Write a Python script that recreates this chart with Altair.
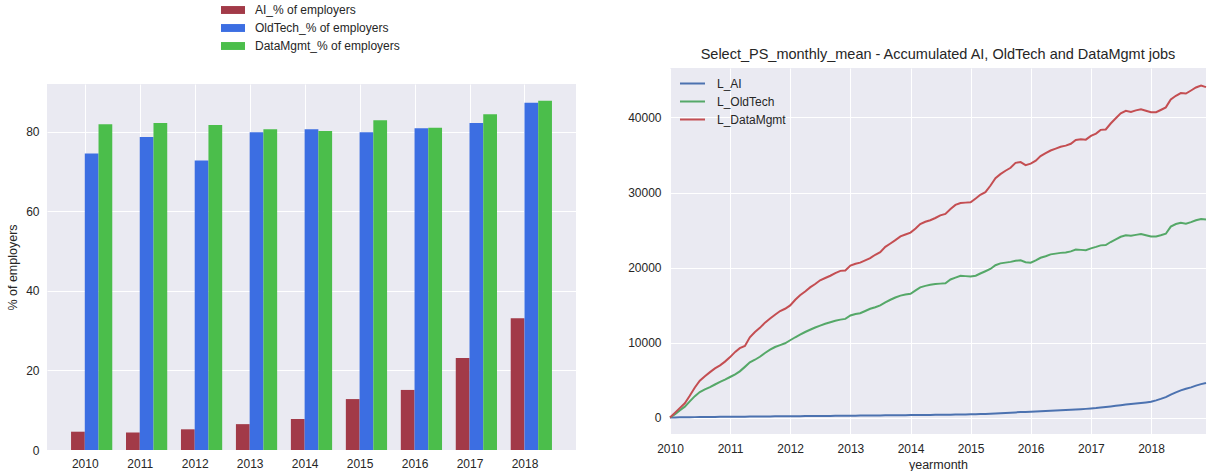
import altair as alt
import pandas as pd

# ---------------- data: left bar chart ----------------
years = [2010, 2011, 2012, 2013, 2014, 2015, 2016, 2017, 2018]
ai_pct = [4.6, 4.4, 5.2, 6.5, 7.8, 12.8, 15.1, 23.1, 33.1]
oldtech_pct = [74.5, 78.7, 72.8, 79.9, 80.6, 79.9, 80.9, 82.2, 87.3]
datamgmt_pct = [81.9, 82.2, 81.7, 80.6, 80.2, 82.9, 81.0, 84.4, 87.8]
bar_series = ["AI_% of employers", "OldTech_% of employers", "DataMgmt_% of employers"]
bar_colors = ["#A23A48", "#3C6EE2", "#4BBE4B"]

# ---------------- data: right line chart (monthly, 2010-01 .. 2018-12) ----------------
months = pd.date_range("2010-01-01", "2018-12-01", freq="MS").strftime("%Y-%m-%d").tolist()

l_ai = [
    0, 12, 25, 33, 41, 50, 57, 63, 70, 78, 84, 90,
    96, 103, 108, 115, 121, 128, 133, 139, 146, 151, 157, 163,
    169, 174, 181, 186, 193, 199, 205, 210, 216, 223, 229, 235,
    240, 247, 253, 259, 266, 272, 279, 285, 292, 299, 305, 312,
    318, 326, 334, 341, 349, 357, 366, 374, 383, 393, 403, 412,
    425, 440, 458, 480, 505, 535, 565, 600, 640, 680, 720, 745,
    770, 800, 830, 860, 890, 920, 955, 990, 1030, 1070, 1110, 1150,
    1200, 1260, 1330, 1410, 1480, 1560, 1640, 1720, 1800, 1860, 1930, 2010,
    2100, 2280, 2480, 2720, 3050, 3350, 3620, 3830, 4020, 4250, 4450, 4600,
]
l_oldtech = [
    0, 450, 950, 1450, 2150, 2850, 3400, 3750, 4050, 4400, 4750, 5050,
    5400, 5750, 6150, 6750, 7350, 7700, 8100, 8600, 9050, 9400, 9650, 9900,
    10300, 10700, 11050, 11400, 11700, 12000, 12250, 12500, 12700, 12900, 13050, 13150,
    13600, 13800, 13900, 14200, 14500, 14700, 14950, 15350, 15700, 16000, 16250, 16400,
    16500, 16950, 17350, 17550, 17700, 17800, 17850, 17900, 18400, 18650, 18900, 18850,
    18800, 18900, 19200, 19500, 19800, 20300, 20550, 20650, 20750, 20900, 20950, 20700,
    20650, 20950, 21300, 21500, 21750, 21850, 21950, 22000, 22150, 22400, 22350, 22300,
    22550, 22750, 22950, 23000, 23400, 23750, 24100, 24300, 24250, 24350, 24450, 24300,
    24150, 24150, 24300, 24500, 25450, 25800, 25950, 25850, 26050, 26300, 26450, 26400,
]
l_datamgmt = [
    0, 650, 1250, 1900, 2900, 4000, 4900, 5500, 6050, 6550, 6950, 7450,
    8050, 8750, 9250, 9550, 10700, 11400, 11950, 12650, 13200, 13700, 14200, 14500,
    14950, 15700, 16300, 16800, 17350, 17800, 18300, 18600, 18900, 19250, 19550, 19600,
    20250, 20500, 20650, 20950, 21250, 21700, 22050, 22750, 23200, 23650, 24150, 24400,
    24650, 25200, 25800, 26100, 26300, 26600, 26950, 27150, 27800, 28350, 28600, 28650,
    28700, 29200, 29700, 30050, 30900, 31900, 32450, 32900, 33300, 33950, 34050, 33650,
    33850, 34250, 34850, 35250, 35600, 35850, 36100, 36250, 36500, 37000, 37100, 37050,
    37550, 37850, 38350, 38400, 39200, 39900, 40550, 40900, 40750, 40950, 41100, 40900,
    40700, 40700, 41000, 41350, 42400, 42900, 43250, 43200, 43600, 44000, 44250, 44050,
]
line_series = ["L_AI", "L_OldTech", "L_DataMgmt"]
line_colors = ["#4C72B0", "#55A868", "#C44E52"]

FONT = "Liberation Sans"
TXT = "#262626"
BG = "#EAEAF2"
BAR_W = 0.25

# ---------------- build tables ----------------
rows = []
for k, (name, vals) in enumerate(zip(bar_series, [ai_pct, oldtech_pct, datamgmt_pct])):
    for yr, v in zip(years, vals):
        rows.append({"year": yr, "series": name, "value": v, "order": k})
bar_df = pd.DataFrame(rows)

lrows = []
for name, vals in zip(line_series, [l_ai, l_oldtech, l_datamgmt]):
    for m, v in zip(months, vals):
        lrows.append({"yearmonth": m, "series": name, "value": v})
line_df = pd.DataFrame(lrows)

# ---------------- left: grouped bars ----------------
left = (
    alt.Chart(bar_df)
    .transform_calculate(
        x0=f"datum.year + (datum.order - 1) * {BAR_W}",
        x1=f"datum.year + datum.order * {BAR_W}",
    )
    .mark_rect()
    .encode(
        x=alt.X(
            "x0:Q",
            scale=alt.Scale(domain=[2009.3125, 2018.9375], nice=False, zero=False),
            axis=alt.Axis(values=years, format="d", title=None, labelPadding=8),
        ),
        x2="x1:Q",
        y=alt.Y(
            "value:Q",
            scale=alt.Scale(domain=[0, 92], nice=False),
            axis=alt.Axis(values=[0, 20, 40, 60, 80], title="% of employers",
                          labelPadding=8, titlePadding=6),
        ),
        y2=alt.datum(0),
        color=alt.Color(
            "series:N",
            scale=alt.Scale(domain=bar_series, range=bar_colors),
            legend=alt.Legend(
                title=None, orient="none", legendX=180, legendY=-80,
                direction="vertical",
                symbolType="M-2,-0.66H2V0.66H-2Z", symbolSize=144,
                symbolStrokeWidth=0, rowPadding=6, labelOffset=16,
                labelFont=FONT, labelFontSize=12, labelColor=TXT,
            ),
        ),
    )
    .properties(width=529, height=366, view=alt.ViewBackground(fill=BG, stroke=None))
)

# ---------------- right: accumulated lines ----------------
right = (
    alt.Chart(line_df)
    .mark_line(strokeWidth=2)
    .encode(
        x=alt.X(
            "yearmonth:T",
            scale=alt.Scale(type="utc", nice=False),
            axis=alt.Axis(format="%Y", tickCount={"interval": "year", "step": 1},
                          labelFlush=False,
                          title="yearmonth", labelPadding=9, titlePadding=4),
        ),
        y=alt.Y(
            "value:Q",
            scale=alt.Scale(domain=[-2200, 46600], nice=False, zero=False),
            axis=alt.Axis(values=[0, 10000, 20000, 30000, 40000], format="d",
                          title=None, labelPadding=9),
        ),
        color=alt.Color(
            "series:N",
            sort=line_series,
            scale=alt.Scale(domain=line_series, range=line_colors),
            legend=alt.Legend(
                title=None, orient="none", legendX=15, legendY=8,
                direction="vertical", symbolType="M-2,0H2", symbolSize=156,
                symbolStrokeWidth=2, symbolFillColor="transparent",
                rowPadding=4, labelOffset=17,
                labelFont=FONT, labelFontSize=12, labelColor=TXT,
            ),
        ),
    )
    .properties(
        width=536, height=366,
        view=alt.ViewBackground(fill=BG, stroke=None),
        title=alt.Title(
            "Select_PS_monthly_mean - Accumulated AI, OldTech and DataMgmt jobs",
            font=FONT, fontSize=14.5, fontWeight="normal", color=TXT, offset=6,
        ),
    )
)


def spacer(h):
    return (
        alt.Chart(pd.DataFrame({"s": [0]}))
        .mark_point(opacity=0, size=0)
        .encode(x=alt.X("s:Q", axis=None), y=alt.Y("s:Q", axis=None))
        .properties(width=10, height=h, view=alt.ViewBackground(fill=None, stroke=None))
    )


left_col = alt.vconcat(spacer(1), left, spacing=0).resolve_scale(color="independent")
right_col = alt.vconcat(spacer(43), right, spacing=0).resolve_scale(color="independent")

chart = (
    alt.hconcat(left_col, right_col, spacing=51)
    .resolve_scale(color="independent")
    .properties(padding={"left": 6, "top": 3, "right": 0, "bottom": 0}, background="white")
    .configure_view(stroke=None)
    .configure_axis(
        grid=True, gridColor="white", gridWidth=1, gridOpacity=1,
        domain=False, ticks=False,
        labelFont=FONT, labelFontSize=12, labelColor=TXT,
        titleFont=FONT, titleFontSize=12.5, titleFontWeight="normal", titleColor=TXT,
    )
)

chart.save("out.html", embed_options={"renderer": "svg", "actions": False})
